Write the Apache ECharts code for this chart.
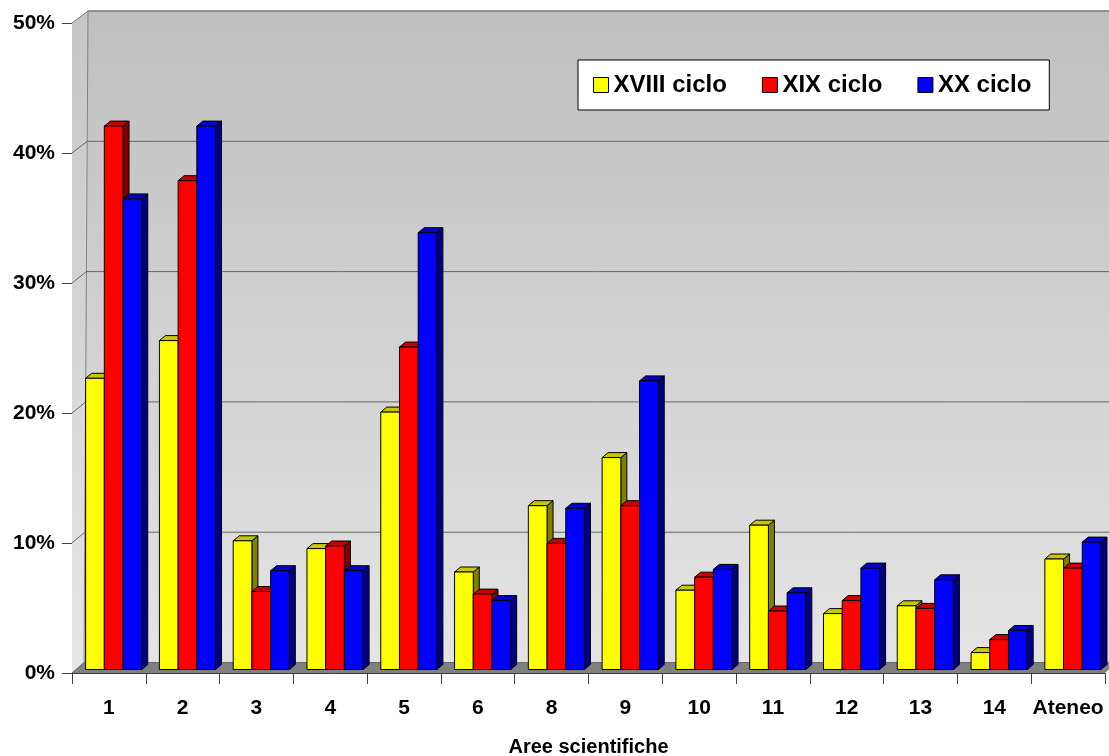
<!DOCTYPE html>
<html>
<head>
<meta charset="utf-8">
<script src="https://cdn.jsdelivr.net/npm/echarts@6/dist/echarts.min.js"></script>
<style>
  html, body { margin: 0; padding: 0; background: #ffffff; }
  #chart { width: 1109px; height: 756px; }
</style>
</head>
<body>
<div id="chart"></div>
<script>
// Aree scientifiche: share per ciclo di dottorato
const categories = ['1', '2', '3', '4', '5', '6', '8', '9', '10', '11', '12', '13', '14', 'Ateneo'];
const seriesNames = ['XVIII ciclo', 'XIX ciclo', 'XX ciclo'];
const cicloXVIII = [22.4, 25.3, 9.9, 9.3, 19.8, 7.5, 12.6, 16.3, 6.1, 11.1, 4.3, 4.9, 1.3, 8.5];
const cicloXIX   = [41.8, 37.6, 6.0, 9.5, 24.8, 5.8, 9.7, 12.6, 7.1, 4.5, 5.3, 4.7, 2.3, 7.8];
const cicloXX    = [36.2, 41.8, 7.6, 7.6, 33.6, 5.3, 12.4, 22.2, 7.7, 5.9, 7.8, 6.9, 3.0, 9.8];
const yTicks = [0, 10, 20, 30, 40, 50];

const Y_MAX = 50;
const FONT = '"Liberation Sans", Arial, sans-serif';

// face colours: front, top, side
const palette = [
  { front: '#ffff00', top: '#c8c800', side: '#808000' },
  { front: '#ff0000', top: '#c80000', side: '#800000' },
  { front: '#0000ff', top: '#0000c8', side: '#000080' }
];

// oblique depth of the walls, with a light perspective (grows with height)
function wallDepth(v) {
  const t = v / Y_MAX;
  return [12 + 4 * t, -(10.5 + 1.5 * t)];
}

const BAR_FRAC = 0.2535;       // width of one bar, as a share of the category band
const BAR_SHIFT = [4.8, -3.5]; // bars stand a little behind the front plane
const BAR_DEPTH = [6, -5];     // thickness of each bar's top/side faces

function wallsRenderer(params, api) {
  const cs = params.coordSys;
  const L = cs.x, R = cs.x + cs.width;
  const p0 = api.coord([0, 0]);
  const pT = api.coord([0, Y_MAX]);
  const y0 = p0[1], yT = pT[1];
  const d0 = wallDepth(0), dT = wallDepth(Y_MAX);
  const wallFill = {
    type: 'linear', x: 0, y: 0, x2: 0, y2: 1,
    colorStops: [{ offset: 0, color: '#bfbfbf' }, { offset: 1, color: '#e4e4e4' }]
  };
  const sideFill = {
    type: 'linear', x: 0, y: 0, x2: 0, y2: 1,
    colorStops: [{ offset: 0, color: '#c6c6c6' }, { offset: 1, color: '#e6e6e6' }]
  };
  const children = [
    { type: 'polygon', shape: { points: [
        [L + dT[0], yT + dT[1]], [R + dT[0] + 40, yT + dT[1]],
        [R + d0[0] + 40, y0 + d0[1]], [L + d0[0], y0 + d0[1]]] },
      style: { fill: wallFill } },
    { type: 'polygon', shape: { points: [
        [L, yT], [L + dT[0], yT + dT[1]], [L + d0[0], y0 + d0[1]], [L, y0]] },
      style: { fill: sideFill } },
    { type: 'polygon', shape: { points: [
        [L, y0], [L + d0[0], y0 + d0[1]], [R + d0[0], y0 + d0[1]], [R, y0]] },
      style: { fill: '#808080' } },
    { type: 'line', shape: { x1: L + dT[0], y1: yT + dT[1], x2: L + d0[0], y2: y0 + d0[1] },
      style: { stroke: '#808080', lineWidth: 1 } }
  ];
  return { type: 'group', children: children };
}

function gridRenderer(params, api) {
  const cs = params.coordSys;
  const L = cs.x, R = cs.x + cs.width;
  const v = api.value(0);
  const y = api.coord([0, v])[1];
  const d = wallDepth(v);
  const color = v === Y_MAX ? '#7a7a7a' : '#666666';
  return { type: 'group', children: [
    { type: 'line', shape: { x1: L, y1: y, x2: L + d[0], y2: y + d[1] },
      style: { stroke: color, lineWidth: 1 } },
    { type: 'line', shape: { x1: L + d[0], y1: y + d[1], x2: R + 60, y2: y + d[1] },
      style: { stroke: color, lineWidth: v === Y_MAX ? 1.5 : 1 } }
  ] };
}

function barRenderer(k) {
  const c = palette[k];
  return function (params, api) {
    const cat = api.value(0), val = api.value(1);
    const base = api.coord([cat, 0]);
    const top = api.coord([cat, val]);
    const band = api.size([1, 0])[0];
    const w = band * BAR_FRAC;
    const x0 = base[0] - 1.5 * w + k * w + BAR_SHIFT[0];
    const x1 = x0 + w;
    const yb = base[1] + BAR_SHIFT[1];
    const yt = top[1] + BAR_SHIFT[1];
    const dx = BAR_DEPTH[0], dy = BAR_DEPTH[1];
    const stroke = { stroke: '#000000', lineWidth: 1, lineJoin: 'miter' };
    return { type: 'group', children: [
      { type: 'polygon', shape: { points: [[x1, yb], [x1 + dx, yb + dy], [x1 + dx, yt + dy], [x1, yt]] },
        style: Object.assign({ fill: c.side }, stroke) },
      { type: 'polygon', shape: { points: [[x0, yt], [x1, yt], [x1 + dx, yt + dy], [x0 + dx, yt + dy]] },
        style: Object.assign({ fill: c.top }, stroke) },
      { type: 'rect', shape: { x: x0, y: yt, width: w, height: yb - yt },
        style: Object.assign({ fill: c.front }, stroke) }
    ] };
  };
}

function seriesData(values) {
  return values.map(function (v, i) { return [i, v]; });
}

const chart = echarts.init(document.getElementById('chart'), null, { renderer: 'canvas' });

chart.setOption({
  animation: false,
  backgroundColor: '#ffffff',
  textStyle: { fontFamily: FONT },
  grid: { left: 72, right: 4, top: 23, bottom: 83, containLabel: false, outerBoundsMode: 'none' },
  legend: {
    data: seriesNames,
    left: 578, top: 60,
    orient: 'horizontal',
    backgroundColor: '#ffffff',
    borderColor: '#000000', borderWidth: 1,
    padding: [13, 18, 13, 15],
    itemGap: 35,
    itemWidth: 15, itemHeight: 15,
    icon: 'rect',
    itemStyle: { borderColor: '#000000', borderWidth: 1 },
    textStyle: { fontFamily: FONT, fontSize: 24, fontWeight: 'bold', color: '#000000' },
    selectedMode: false
  },
  xAxis: {
    type: 'category',
    data: categories,
    boundaryGap: true,
    name: 'Aree scientifiche',
    nameLocation: 'middle',
    nameGap: 64,
    nameTextStyle: { fontFamily: FONT, fontSize: 20, fontWeight: 'bold', color: '#000000' },
    axisLine: { show: true, lineStyle: { color: '#404040', width: 1 } },
    axisTick: { show: true, length: 11, alignWithLabel: false, lineStyle: { color: '#404040' } },
    axisLabel: { interval: 0, margin: 25, fontFamily: FONT, fontSize: 21, fontWeight: 'bold', color: '#000000' },
    splitLine: { show: false }
  },
  yAxis: {
    type: 'value',
    min: 0, max: Y_MAX, interval: 10,
    axisLine: { show: true, lineStyle: { color: '#505050', width: 1 } },
    axisTick: { show: true, length: 10, lineStyle: { color: '#404040' } },
    axisLabel: { formatter: '{value}%', margin: 17, fontFamily: FONT, fontSize: 21, fontWeight: 'bold', color: '#000000' },
    splitLine: { show: false }
  },
  series: [
    { name: 'pareti', type: 'custom', renderItem: wallsRenderer, data: [[0]], silent: true, z: 1 },
    { name: 'griglia', type: 'custom', renderItem: gridRenderer, data: yTicks.map(function (v) { return [v]; }), silent: true, z: 2 },
    { name: seriesNames[0], type: 'custom', renderItem: barRenderer(0), data: seriesData(cicloXVIII),
      itemStyle: { color: palette[0].front }, z: 3 },
    { name: seriesNames[1], type: 'custom', renderItem: barRenderer(1), data: seriesData(cicloXIX),
      itemStyle: { color: palette[1].front }, z: 4 },
    { name: seriesNames[2], type: 'custom', renderItem: barRenderer(2), data: seriesData(cicloXX),
      itemStyle: { color: palette[2].front }, z: 5 }
  ]
});
</script>
</body>
</html>
